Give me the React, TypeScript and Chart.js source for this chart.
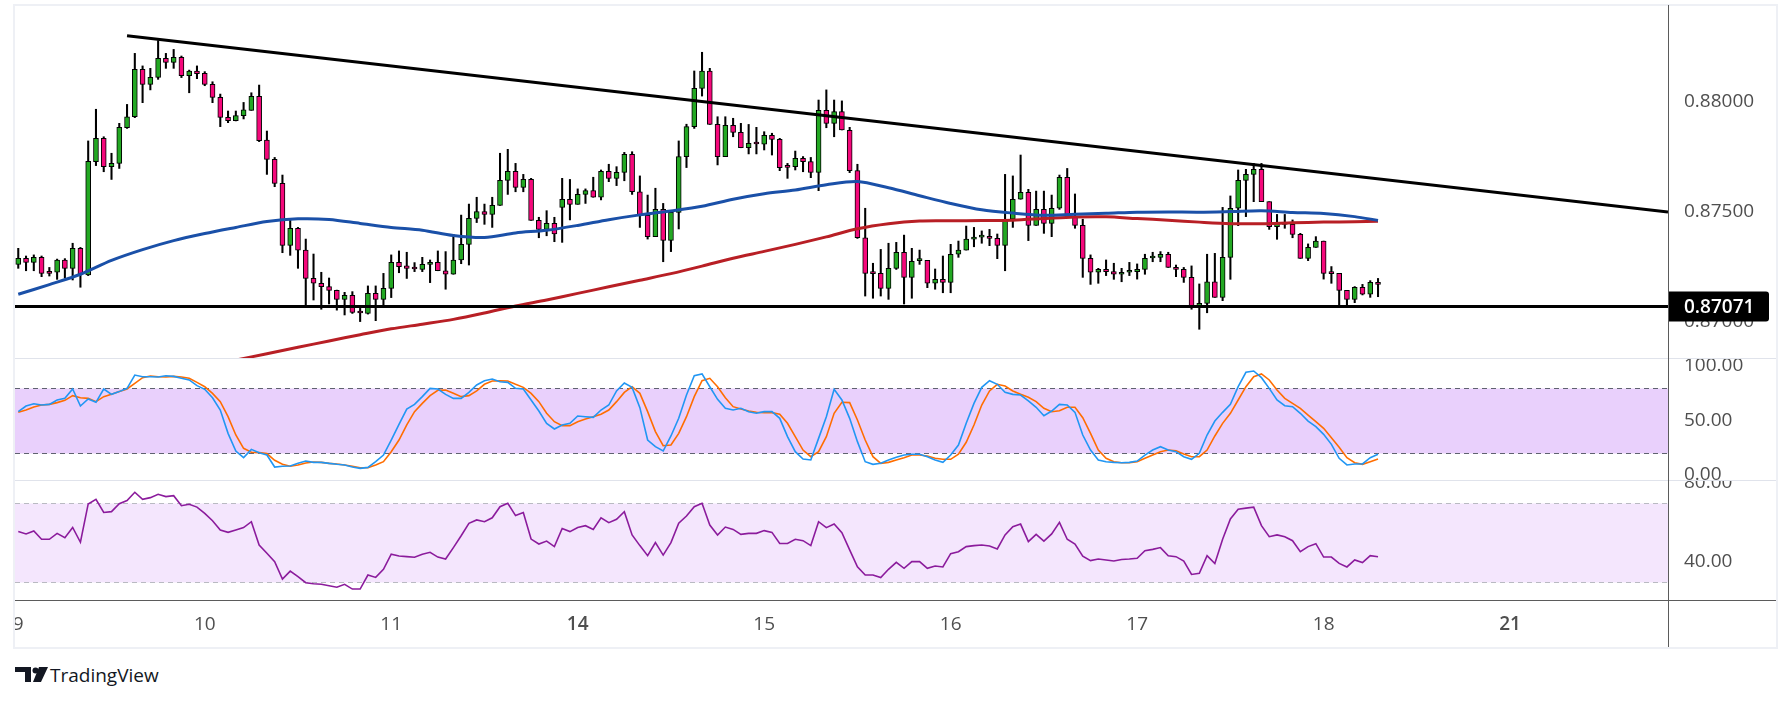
import { useEffect, useRef } from 'react'
import { Chart, registerables } from 'chart.js'

Chart.register(...registerables)
Chart.defaults.font.family = "'Open Sans', sans-serif"

// time axis: one candle per hour, day labels at candle index of 00:00
const dayStarts = [0, 24, 48, 72, 96, 120, 144, 168, 192]
const dayLabels = ['9', '10', '11', '14', '15', '16', '17', '18', '21']
const weekStarts = ['14', '21']

// hourly candles
const opens = [
  0.87262, 0.87289, 0.87271, 0.87294, 0.87224, 0.87226, 0.87282, 0.87244, 0.87335, 0.87214,
  0.87729, 0.87835, 0.87706, 0.87721, 0.87883, 0.87933, 0.88148, 0.88080, 0.88112, 0.88198,
  0.88180, 0.88203, 0.88120, 0.88141, 0.88130, 0.88080, 0.88021, 0.87930, 0.87915, 0.87938,
  0.87962, 0.88026, 0.87827, 0.87739, 0.87630, 0.87348, 0.87426, 0.87327, 0.87198, 0.87176,
  0.87161, 0.87144, 0.87103, 0.87121, 0.87044, 0.87039, 0.87130, 0.87103, 0.87153, 0.87271,
  0.87255, 0.87244, 0.87239, 0.87262, 0.87271, 0.87233, 0.87217, 0.87282, 0.87353, 0.87471,
  0.87502, 0.87489, 0.87530, 0.87644, 0.87685, 0.87612, 0.87648, 0.87462, 0.87421, 0.87448,
  0.87521, 0.87558, 0.87535, 0.87580, 0.87597, 0.87567, 0.87685, 0.87653, 0.87680, 0.87762,
  0.87592, 0.87485, 0.87388, 0.87512, 0.87371, 0.87498, 0.87752, 0.87888, 0.88062, 0.88141,
  0.87898, 0.87752, 0.87894, 0.87862, 0.87792, 0.87812, 0.87808, 0.87848, 0.87830, 0.87706,
  0.87706, 0.87744, 0.87729, 0.87680, 0.87962, 0.87903, 0.87956, 0.87871, 0.87688, 0.87383,
  0.87221, 0.87221, 0.87153, 0.87244, 0.87317, 0.87203, 0.87279, 0.87280, 0.87176, 0.87194,
  0.87180, 0.87308, 0.87327, 0.87377, 0.87386, 0.87389, 0.87380, 0.87348, 0.87467, 0.87558,
  0.87589, 0.87439, 0.87512, 0.87448, 0.87517, 0.87658, 0.87482, 0.87439, 0.87289, 0.87226,
  0.87239, 0.87229, 0.87217, 0.87226, 0.87229, 0.87239, 0.87291, 0.87294, 0.87308, 0.87248,
  0.87239, 0.87203, 0.87073, 0.87085, 0.87183, 0.87112, 0.87294, 0.87517, 0.87644, 0.87671,
  0.87694, 0.87547, 0.87433, 0.87453, 0.87444, 0.87398, 0.87289, 0.87339, 0.87368, 0.87221,
  0.87221, 0.87144, 0.87103, 0.87158, 0.87126, 0.87180,
]
const highs = [
  0.87335, 0.87300, 0.87305, 0.87300, 0.87248, 0.87286, 0.87288, 0.87358, 0.87339, 0.87823,
  0.87967, 0.87842, 0.87767, 0.87903, 0.87989, 0.88221, 0.88164, 0.88153, 0.88279, 0.88221,
  0.88239, 0.88209, 0.88145, 0.88164, 0.88138, 0.88092, 0.88036, 0.87959, 0.87959, 0.87998,
  0.88042, 0.88077, 0.87868, 0.87748, 0.87668, 0.87471, 0.87430, 0.87377, 0.87309, 0.87226,
  0.87200, 0.87145, 0.87135, 0.87138, 0.87062, 0.87164, 0.87164, 0.87221, 0.87305, 0.87323,
  0.87317, 0.87270, 0.87294, 0.87282, 0.87323, 0.87320, 0.87398, 0.87486, 0.87536, 0.87567,
  0.87536, 0.87567, 0.87767, 0.87785, 0.87721, 0.87671, 0.87653, 0.87476, 0.87506, 0.87476,
  0.87653, 0.87648, 0.87605, 0.87605, 0.87658, 0.87691, 0.87717, 0.87706, 0.87771, 0.87774,
  0.87664, 0.87577, 0.87608, 0.87539, 0.87506, 0.87823, 0.87899, 0.88141, 0.88226, 0.88153,
  0.87933, 0.87933, 0.87926, 0.87903, 0.87898, 0.87885, 0.87865, 0.87858, 0.87835, 0.87721,
  0.87777, 0.87752, 0.87748, 0.88009, 0.88055, 0.88009, 0.88005, 0.87885, 0.87717, 0.87517,
  0.87267, 0.87330, 0.87358, 0.87362, 0.87395, 0.87335, 0.87327, 0.87280, 0.87241, 0.87300,
  0.87353, 0.87368, 0.87436, 0.87430, 0.87414, 0.87421, 0.87400, 0.87671, 0.87664, 0.87759,
  0.87603, 0.87595, 0.87595, 0.87577, 0.87668, 0.87698, 0.87582, 0.87467, 0.87305, 0.87244,
  0.87282, 0.87267, 0.87244, 0.87271, 0.87264, 0.87308, 0.87317, 0.87320, 0.87317, 0.87259,
  0.87248, 0.87255, 0.87173, 0.87308, 0.87312, 0.87521, 0.87573, 0.87691, 0.87694, 0.87721,
  0.87721, 0.87547, 0.87489, 0.87489, 0.87464, 0.87403, 0.87355, 0.87388, 0.87368, 0.87252,
  0.87221, 0.87144, 0.87161, 0.87171, 0.87188, 0.87198,
]
const lows = [
  0.87244, 0.87233, 0.87233, 0.87206, 0.87209, 0.87194, 0.87201, 0.87191, 0.87158, 0.87211,
  0.87711, 0.87683, 0.87648, 0.87698, 0.87880, 0.87929, 0.87997, 0.88055, 0.88103, 0.88153,
  0.88153, 0.88111, 0.88042, 0.88106, 0.88074, 0.87997, 0.87888, 0.87906, 0.87914, 0.87923,
  0.87962, 0.87820, 0.87671, 0.87615, 0.87315, 0.87303, 0.87244, 0.87073, 0.87100, 0.87058,
  0.87082, 0.87054, 0.87032, 0.87039, 0.87002, 0.87036, 0.87006, 0.87074, 0.87111, 0.87224,
  0.87198, 0.87229, 0.87229, 0.87179, 0.87233, 0.87149, 0.87217, 0.87265, 0.87259, 0.87452,
  0.87444, 0.87430, 0.87530, 0.87580, 0.87592, 0.87592, 0.87462, 0.87383, 0.87392, 0.87365,
  0.87362, 0.87464, 0.87535, 0.87539, 0.87567, 0.87555, 0.87638, 0.87620, 0.87642, 0.87580,
  0.87430, 0.87377, 0.87388, 0.87274, 0.87320, 0.87423, 0.87702, 0.87880, 0.88027, 0.87898,
  0.87714, 0.87752, 0.87842, 0.87792, 0.87764, 0.87764, 0.87782, 0.87759, 0.87688, 0.87653,
  0.87691, 0.87683, 0.87656, 0.87597, 0.87883, 0.87842, 0.87873, 0.87679, 0.87380, 0.87118,
  0.87108, 0.87118, 0.87103, 0.87239, 0.87082, 0.87108, 0.87262, 0.87156, 0.87149, 0.87133,
  0.87133, 0.87294, 0.87327, 0.87342, 0.87358, 0.87347, 0.87288, 0.87233, 0.87430, 0.87558,
  0.87370, 0.87439, 0.87403, 0.87388, 0.87512, 0.87474, 0.87426, 0.87203, 0.87171, 0.87176,
  0.87211, 0.87194, 0.87183, 0.87211, 0.87195, 0.87217, 0.87274, 0.87274, 0.87248, 0.87206,
  0.87180, 0.87058, 0.86967, 0.87042, 0.87112, 0.87097, 0.87194, 0.87438, 0.87479, 0.87547,
  0.87547, 0.87421, 0.87376, 0.87426, 0.87383, 0.87289, 0.87279, 0.87339, 0.87195, 0.87176,
  0.87077, 0.87077, 0.87088, 0.87123, 0.87112, 0.87115,
]
const closes = [
  0.87289, 0.87271, 0.87294, 0.87221, 0.87221, 0.87282, 0.87244, 0.87335, 0.87217, 0.87730,
  0.87835, 0.87706, 0.87721, 0.87885, 0.87933, 0.88148, 0.88080, 0.88112, 0.88198, 0.88180,
  0.88203, 0.88120, 0.88141, 0.88129, 0.88080, 0.88021, 0.87930, 0.87915, 0.87938, 0.87964,
  0.88026, 0.87824, 0.87739, 0.87630, 0.87348, 0.87426, 0.87327, 0.87198, 0.87176, 0.87161,
  0.87144, 0.87103, 0.87121, 0.87044, 0.87041, 0.87130, 0.87103, 0.87153, 0.87271, 0.87252,
  0.87244, 0.87241, 0.87262, 0.87271, 0.87233, 0.87217, 0.87282, 0.87353, 0.87471, 0.87502,
  0.87489, 0.87530, 0.87644, 0.87685, 0.87612, 0.87648, 0.87462, 0.87421, 0.87448, 0.87400,
  0.87558, 0.87535, 0.87580, 0.87597, 0.87567, 0.87685, 0.87653, 0.87680, 0.87762, 0.87592,
  0.87485, 0.87388, 0.87512, 0.87371, 0.87498, 0.87752, 0.87888, 0.88062, 0.88141, 0.87898,
  0.87752, 0.87894, 0.87862, 0.87792, 0.87812, 0.87809, 0.87848, 0.87830, 0.87702, 0.87703,
  0.87744, 0.87729, 0.87680, 0.87962, 0.87903, 0.87956, 0.87873, 0.87688, 0.87383, 0.87221,
  0.87220, 0.87153, 0.87244, 0.87317, 0.87203, 0.87276, 0.87280, 0.87176, 0.87194, 0.87180,
  0.87308, 0.87327, 0.87377, 0.87385, 0.87388, 0.87380, 0.87348, 0.87467, 0.87558, 0.87589,
  0.87439, 0.87512, 0.87448, 0.87517, 0.87658, 0.87482, 0.87439, 0.87289, 0.87226, 0.87239,
  0.87229, 0.87217, 0.87226, 0.87229, 0.87239, 0.87289, 0.87292, 0.87308, 0.87248, 0.87239,
  0.87203, 0.87073, 0.87085, 0.87183, 0.87112, 0.87294, 0.87517, 0.87644, 0.87671, 0.87694,
  0.87547, 0.87433, 0.87453, 0.87444, 0.87398, 0.87289, 0.87339, 0.87368, 0.87221, 0.87220,
  0.87144, 0.87103, 0.87158, 0.87126, 0.87180, 0.87171,
]

// moving averages, sampled at these candle indexes
const fastMaIdx = [
  0, 4, 8, 12, 16, 20, 24, 28, 32, 36, 40, 44, 48, 52, 56, 60, 64, 68, 72, 76, 80, 84, 88,
  92, 96, 100, 104, 108, 112, 116, 120, 124, 128, 132, 136, 140, 144, 148, 152, 156, 160,
  164, 168, 172, 175,
]
const fastMa = [
  0.87126, 0.87170, 0.87217, 0.87280, 0.87329, 0.87370, 0.87402, 0.87430, 0.87457, 0.87469,
  0.87466, 0.87448, 0.87430, 0.87417, 0.87393, 0.87384, 0.87405, 0.87417, 0.87439, 0.87465,
  0.87487, 0.87505, 0.87526, 0.87558, 0.87583, 0.87600, 0.87624, 0.87639, 0.87610, 0.87574,
  0.87539, 0.87510, 0.87495, 0.87485, 0.87490, 0.87494, 0.87499, 0.87500, 0.87499, 0.87502,
  0.87506, 0.87498, 0.87493, 0.87479, 0.87462,
]
const slowMaIdx = [
  20, 24, 28, 32, 36, 40, 44, 48, 52, 56, 60, 64, 68, 72, 76, 80, 84, 88, 92, 96, 100, 104,
  108, 112, 116, 120, 124, 128, 132, 136, 140, 144, 148, 152, 156, 160, 164, 168, 172, 175,
]
const slowMa = [
  0.86770, 0.86798, 0.86827, 0.86856, 0.86885, 0.86914, 0.86942, 0.86969, 0.86990, 0.87012,
  0.87041, 0.87073, 0.87100, 0.87130, 0.87160, 0.87190, 0.87220, 0.87254, 0.87290, 0.87321,
  0.87353, 0.87387, 0.87424, 0.87447, 0.87459, 0.87460, 0.87461, 0.87463, 0.87470, 0.87477,
  0.87478, 0.87470, 0.87463, 0.87454, 0.87447, 0.87447, 0.87451, 0.87454, 0.87456, 0.87458,
]

// drawn lines
const trendIdx = [14, 212.32]
const trendPrice = [0.88301, 0.875]
const supportLevel = 0.87071

// stochastic %K / %D
const stochK = [
  58.1, 63.3, 65.4, 64.2, 64.8, 68.8, 70.3, 78.9, 63.3, 69.7,
  66.7, 78.9, 74.0, 76.5, 79.5, 91.7, 90.2, 90.2, 89.9, 91.1,
  90.5, 88.7, 87.2, 82.0, 78.6, 70.9, 59.6, 38.2, 22.0, 15.9,
  23.5, 20.5, 18.3, 7.3, 8.0, 8.3, 10.7, 12.8, 11.6, 11.6,
  10.7, 9.8, 9.2, 7.3, 6.1, 7.0, 12.2, 18.3, 32.1, 46.5,
  60.5, 64.8, 71.9, 79.5, 78.9, 74.0, 70.3, 70.3, 75.8, 82.6,
  86.5, 88.1, 85.6, 85.0, 79.5, 78.9, 68.8, 58.7, 47.4, 42.2,
  45.9, 47.4, 54.1, 53.5, 52.9, 59.6, 64.2, 77.1, 84.4, 80.4,
  61.8, 32.1, 26.0, 22.0, 35.8, 52.0, 73.4, 91.1, 92.7, 81.0,
  69.4, 61.2, 59.6, 61.2, 58.1, 56.6, 58.1, 58.1, 52.0, 35.2,
  21.4, 14.7, 13.8, 33.6, 53.5, 78.6, 68.8, 52.0, 30.6, 12.2,
  9.8, 10.7, 13.8, 16.2, 18.3, 19.0, 19.0, 16.8, 13.8, 11.6,
  18.3, 27.5, 47.4, 65.7, 80.4, 86.5, 83.2, 75.8, 74.0, 73.4,
  67.9, 62.1, 54.4, 58.7, 64.8, 64.2, 57.5, 36.7, 22.9, 13.8,
  12.2, 11.6, 11.3, 11.6, 12.8, 18.3, 22.9, 26.0, 22.9, 21.4,
  16.8, 14.4, 19.9, 36.7, 49.5, 57.5, 64.8, 81.0, 94.2, 95.4,
  89.3, 79.5, 68.8, 63.6, 62.7, 56.6, 49.5, 44.3, 37.3, 28.1,
  15.3, 9.2, 10.1, 10.1, 15.9, 19.0,
]
const stochD = [
  57.5, 59.6, 62.4, 64.2, 64.8, 66.4, 68.5, 72.8, 70.9, 70.3,
  67.3, 71.9, 74.0, 76.5, 78.9, 84.1, 89.3, 90.8, 90.2, 89.9,
  90.5, 89.9, 88.7, 85.0, 81.0, 74.9, 67.3, 53.5, 36.7, 24.5,
  20.8, 20.5, 19.6, 13.5, 9.8, 8.0, 9.2, 11.0, 11.9, 11.6,
  10.7, 10.1, 9.2, 8.0, 6.7, 6.7, 9.2, 12.2, 21.4, 32.1,
  45.9, 58.1, 65.7, 72.8, 77.7, 78.0, 74.9, 71.9, 72.8, 77.1,
  83.2, 86.2, 86.5, 86.2, 83.2, 80.4, 74.9, 67.3, 56.6, 48.9,
  45.3, 45.3, 48.9, 51.4, 53.5, 55.7, 59.6, 67.3, 75.8, 81.0,
  74.9, 58.1, 39.8, 26.9, 27.5, 38.2, 53.5, 71.9, 86.5, 88.7,
  81.0, 70.9, 62.7, 60.5, 58.7, 57.5, 57.2, 57.2, 55.7, 47.4,
  35.2, 22.9, 16.8, 21.4, 35.2, 56.6, 66.7, 66.4, 50.5, 32.1,
  16.8, 10.7, 11.6, 13.8, 15.9, 18.3, 18.3, 17.4, 15.3, 14.5,
  14.4, 19.0, 30.0, 45.9, 64.2, 77.1, 83.2, 81.6, 77.1, 74.0,
  71.3, 67.3, 61.2, 58.1, 59.0, 62.1, 62.1, 52.6, 38.2, 22.9,
  15.3, 12.2, 11.3, 11.3, 12.2, 15.3, 18.3, 21.4, 22.9, 22.3,
  19.3, 16.8, 16.8, 22.9, 35.8, 47.4, 56.6, 68.8, 81.0, 90.2,
  92.7, 87.2, 78.0, 70.3, 65.7, 61.2, 55.0, 48.9, 42.8, 34.2,
  25.4, 15.9, 11.3, 9.8, 12.2, 14.7,
]

// RSI
const rsi = [
  55.4, 54.2, 55.7, 51.5, 51.5, 54.5, 52.3, 57.5, 50.0, 69.4,
  71.7, 65.1, 65.5, 69.5, 71.1, 75.3, 71.7, 72.6, 74.3, 73.1,
  73.6, 68.5, 69.2, 67.8, 64.6, 60.9, 56.2, 55.0, 56.2, 57.4,
  60.4, 48.6, 44.4, 40.2, 31.4, 35.4, 32.6, 29.5, 29.0, 28.7,
  28.0, 27.2, 28.7, 26.3, 26.3, 33.4, 32.2, 36.3, 44.0, 43.0,
  42.7, 42.4, 43.9, 44.9, 42.5, 41.5, 47.3, 53.3, 59.6, 61.3,
  60.4, 62.4, 68.0, 69.7, 63.5, 65.0, 51.6, 49.1, 50.6, 47.8,
  57.0, 55.4, 57.5, 58.4, 56.5, 62.4, 59.9, 61.6, 65.5, 53.7,
  48.3, 43.2, 49.8, 43.5, 49.8, 59.6, 63.3, 68.0, 69.7, 58.7,
  53.7, 57.7, 56.5, 54.0, 54.5, 54.5, 55.9, 55.0, 49.4, 49.4,
  51.5, 50.8, 48.3, 60.4, 57.4, 59.2, 54.8, 46.1, 37.6, 33.4,
  33.4, 32.1, 36.3, 39.8, 36.8, 40.2, 40.2, 36.8, 38.0, 37.5,
  44.2, 45.2, 47.8, 48.3, 48.6, 48.1, 46.6, 53.7, 57.9, 59.2,
  50.3, 54.0, 50.6, 54.2, 60.1, 51.5, 49.1, 43.0, 40.7, 41.5,
  41.0, 40.5, 41.3, 41.5, 41.9, 45.7, 46.4, 47.3, 43.2, 42.7,
  40.5, 33.7, 34.3, 43.2, 39.2, 51.5, 61.8, 66.7, 67.3, 67.8,
  58.4, 52.8, 53.7, 52.8, 50.8, 45.2, 47.8, 49.3, 42.5, 42.5,
  39.3, 37.5, 41.0, 39.7, 43.2, 42.7,
]

const priceTicks = [0.87, 0.875, 0.88]
const stochTicks = [0, 50, 100]
const rsiTicks = [40, 80]

const X_MIN = -0.42
const X_MAX = 212.32
const AXIS_W = 108
const W = 1761
const GREEN = '#23a823'
const PINK = '#f5087b'
const LABEL = '#4f4f4f'
const FONT = { family: "'Open Sans', sans-serif", size: 19 }

const fixAxis = (s: any) => {
  s.width = AXIS_W
  s.paddingTop = 0
  s.paddingBottom = 0
  s.paddingLeft = 0
  s.paddingRight = 0
}

const yAxis = (min: number, max: number, ticks: number[], digits: number) => ({
  position: 'right' as const,
  min,
  max,
  grid: { display: false, drawTicks: false },
  border: { display: false },
  afterBuildTicks: (s: any) => {
    s.ticks = ticks.map(v => ({ value: v }))
  },
  afterFit: fixAxis,
  ticks: {
    padding: 16,
    color: LABEL,
    font: FONT,
    callback: (v: any) => Number(v).toFixed(digits),
  },
})

const hiddenX = { type: 'linear' as const, min: X_MIN, max: X_MAX, display: false, offset: false }

const bandPlugin = {
  id: 'band',
  beforeDatasetsDraw(chart: any, _a: any, o: any) {
    const { ctx, chartArea: a } = chart
    const y = chart.scales.y
    const top = Math.round(y.getPixelForValue(o.upper)) + 0.5
    const bot = Math.round(y.getPixelForValue(o.lower)) + 0.5
    ctx.save()
    ctx.fillStyle = o.fill
    ctx.fillRect(a.left, top, a.right - a.left, bot - top)
    ctx.strokeStyle = o.line
    ctx.lineWidth = 1
    ctx.setLineDash([5, 4])
    for (const yy of [top, bot]) {
      ctx.beginPath()
      ctx.moveTo(a.left, yy)
      ctx.lineTo(a.right, yy)
      ctx.stroke()
    }
    ctx.restore()
  },
}

const lastLabelPlugin = {
  id: 'lastLabel',
  afterDraw(chart: any) {
    const { ctx, chartArea: a } = chart
    const y = chart.scales.y.getPixelForValue(supportLevel)
    ctx.save()
    ctx.fillStyle = '#000'
    ctx.beginPath()
    ctx.roundRect(a.right, y - 15, 101, 30, [0, 3, 3, 0])
    ctx.fill()
    ctx.fillStyle = '#fff'
    ctx.font = "600 19px 'Open Sans', sans-serif"
    ctx.textBaseline = 'middle'
    ctx.fillText(supportLevel.toFixed(5), a.right + 16, y + 1)
    ctx.restore()
  },
}

export default function App() {
  const priceRef = useRef<HTMLCanvasElement>(null)
  const stochRef = useRef<HTMLCanvasElement>(null)
  const rsiRef = useRef<HTMLCanvasElement>(null)

  useEffect(() => {
    const charts: Chart[] = []
    const bodies = opens.map((o, i) => ({ x: i, y: [o, closes[i]] }))
    const wicks = opens.map((_, i) => ({ x: i, y: [lows[i], highs[i]] }))
    const bodyColors = opens.map((o, i) => (closes[i] >= o ? GREEN : PINK))

    if (priceRef.current) {
      charts.push(
        new Chart(priceRef.current, {
          type: 'bar',
          data: {
            datasets: [
              {
                type: 'line',
                data: trendIdx.map((x, i) => ({ x, y: trendPrice[i] })),
                borderColor: '#000',
                borderWidth: 3,
                pointRadius: 0,
                order: 0,
              },
              {
                type: 'line',
                data: [{ x: X_MIN, y: supportLevel }, { x: X_MAX, y: supportLevel }],
                borderColor: '#000',
                borderWidth: 3,
                pointRadius: 0,
                order: 0,
              },
              {
                type: 'line',
                data: fastMaIdx.map((x, i) => ({ x, y: fastMa[i] })),
                borderColor: '#1a50a8',
                borderWidth: 3,
                pointRadius: 0,
                tension: 0.3,
                order: 1,
              },
              {
                type: 'line',
                data: slowMaIdx.map((x, i) => ({ x, y: slowMa[i] })),
                borderColor: '#b81f25',
                borderWidth: 3,
                pointRadius: 0,
                tension: 0.3,
                order: 1,
              },
              {
                type: 'bar',
                data: bodies as any,
                backgroundColor: bodyColors,
                borderColor: '#000',
                borderWidth: 1,
                borderSkipped: false,
                barThickness: 5,
                minBarLength: 2,
                grouped: false,
                order: 2,
              },
              {
                type: 'bar',
                data: wicks as any,
                backgroundColor: '#000',
                borderWidth: 0,
                barThickness: 1.4,
                grouped: false,
                order: 3,
              },
            ],
          },
          options: {
            responsive: false,
            animation: false,
            events: [],
            layout: { padding: 0 },
            plugins: { legend: { display: false }, tooltip: { enabled: false } },
            scales: {
              x: hiddenX,
              y: yAxis(0.868364, 0.884409, priceTicks, 5),
            },
          },
          plugins: [lastLabelPlugin],
        } as any)
      )
    }

    if (stochRef.current) {
      charts.push(
        new Chart(stochRef.current, {
          type: 'line',
          data: {
            datasets: [
              {
                data: stochK.map((y, x) => ({ x, y })),
                borderColor: '#2196f3',
                borderWidth: 1.6,
                pointRadius: 0,
              },
              {
                data: stochD.map((y, x) => ({ x, y })),
                borderColor: '#ff6d00',
                borderWidth: 1.6,
                pointRadius: 0,
              },
            ],
          },
          options: {
            responsive: false,
            animation: false,
            events: [],
            layout: { padding: { bottom: 4 } },
            plugins: {
              legend: { display: false },
              tooltip: { enabled: false },
              band: { upper: 80, lower: 20, fill: '#e9d0fc', line: '#5f6270' },
            },
            scales: {
              x: hiddenX,
              y: yAxis(-4.59, 107.34, stochTicks, 2),
            },
          },
          plugins: [bandPlugin],
        } as any)
      )
    }

    if (rsiRef.current) {
      charts.push(
        new Chart(rsiRef.current, {
          type: 'line',
          data: {
            datasets: [
              {
                data: rsi.map((y, x) => ({ x, y })),
                borderColor: '#8b1b9c',
                borderWidth: 1.6,
                pointRadius: 0,
              },
            ],
          },
          options: {
            responsive: false,
            animation: false,
            events: [],
            layout: { padding: 0 },
            plugins: {
              legend: { display: false },
              tooltip: { enabled: false },
              band: { upper: 70, lower: 30, fill: '#f4e6fd', line: '#b9bac2' },
            },
            scales: {
              x: {
                type: 'linear',
                min: X_MIN,
                max: X_MAX,
                offset: false,
                grid: { display: false, drawTicks: false },
                border: { display: false },
                afterBuildTicks: (s: any) => {
                  s.ticks = dayStarts.map(v => ({ value: v }))
                },
                afterFit: (s: any) => {
                  s.height = 47
                  s.paddingLeft = 0
                  s.paddingRight = 0
                },
                ticks: {
                  padding: 13,
                  autoSkip: false,
                  maxRotation: 0,
                  minRotation: 0,
                  color: LABEL,
                  font: (c: any) => {
                    const lbl = dayLabels[dayStarts.indexOf(c.tick?.value)]
                    return { ...FONT, weight: weekStarts.includes(lbl) ? '600' : '400' }
                  },
                  callback: (v: any) => dayLabels[dayStarts.indexOf(Number(v))] ?? '',
                },
              },
              y: yAxis(20.76, 81.52, rsiTicks, 2),
            },
          },
          plugins: [bandPlugin],
        } as any)
      )
    }

    return () => charts.forEach(c => c.destroy())
  }, [])

  const line = (s: React.CSSProperties) => (
    <div style={{ position: 'absolute', pointerEvents: 'none', ...s }} />
  )

  return (
    <div
      style={{
        position: 'absolute',
        left: 0,
        top: 0,
        width: 1791,
        height: 701,
        background: '#fff',
        overflow: 'hidden',
        fontFamily: "'Open Sans', sans-serif",
      }}
    >
      <canvas ref={priceRef} width={W} height={353} style={{ position: 'absolute', left: 15, top: 5 }} />
      <canvas ref={rsiRef} width={W} height={167} style={{ position: 'absolute', left: 15, top: 480 }} />
      <canvas ref={stochRef} width={W} height={126} style={{ position: 'absolute', left: 15, top: 358 }} />

      {line({ left: 13, top: 4, width: 1765, height: 645, border: '2px solid #eef0f5', boxSizing: 'border-box' })}
      {line({ left: 15, top: 358, width: 1761, height: 1, background: '#e0e3eb' })}
      {line({ left: 15, top: 480, width: 1761, height: 1, background: '#e0e3eb' })}
      {line({ left: 15, top: 600, width: 1761, height: 1, background: '#5b5b5b' })}
      {line({ left: 1668, top: 5, width: 1, height: 642, background: '#5b5b5b' })}

      <svg
        width={34}
        height={16}
        viewBox="0 0 34 16"
        style={{ position: 'absolute', left: 15, top: 667 }}
      >
        <path d="M0 0 H16 V15 H10 V5 H0 Z" fill="#131722" />
        <circle cx={20.5} cy={3.5} r={3} fill="#131722" />
        <path d="M24 0 H33 L26 15 H18 Z" fill="#131722" />
      </svg>
      <div
        style={{
          position: 'absolute',
          left: 50,
          top: 665,
          lineHeight: '20px',
          fontSize: 19,
          color: '#131722',
          fontWeight: 500,
        }}
      >
        TradingView
      </div>
    </div>
  )
}
